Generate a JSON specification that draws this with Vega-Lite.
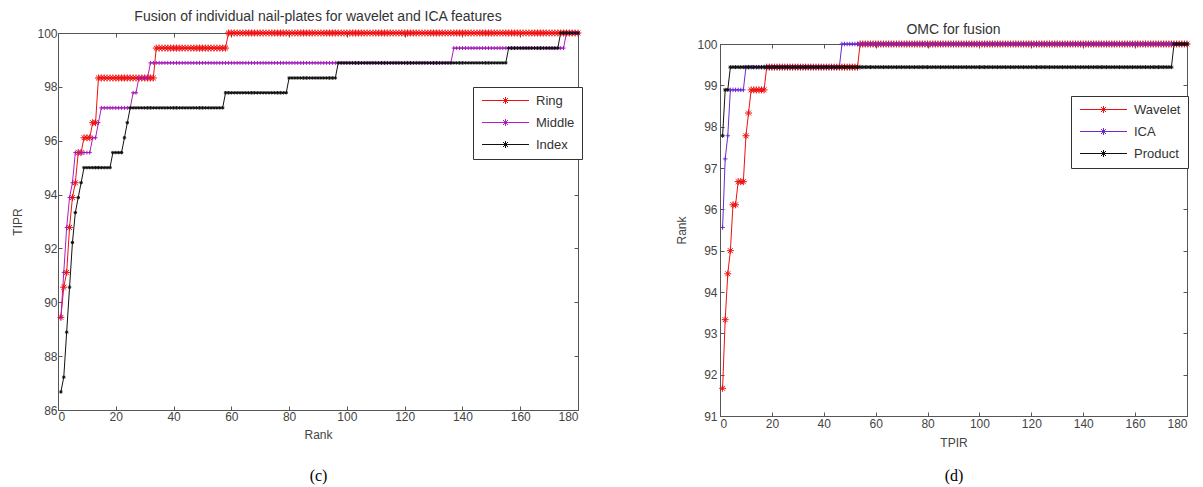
{
 "$schema": "https://vega.github.io/schema/vega-lite/v6.json",
 "background": "white",
 "padding": {"left": 11, "top": 9, "right": 5, "bottom": 1},
 "bounds": "flush",
 "spacing": 142,
 "config": {
  "view": {"stroke": "#555", "strokeWidth": 1},
  "font": "Liberation Sans",
  "axis": {"grid": false, "domainColor": "#555", "tickColor": "#555", "labelColor": "#444", "titleColor": "#444", "labelFont": "Liberation Sans", "titleFont": "Liberation Sans", "labelFontSize": 12, "titleFontSize": 12, "titleFontWeight": "normal", "tickSize": -4, "labelPadding": 5},
  "title": {"font": "Liberation Sans", "fontSize": 14, "fontWeight": "normal", "color": "#333", "anchor": "middle", "baseline": "alphabetic"},
  "legend": {"orient": "none", "title": null, "symbolType": "M-4.7,0L4.7,0M-0.7,0L0.7,0M0,-0.7L0,0.7M-0.5,-0.5L0.5,0.5M-0.5,0.5L0.5,-0.5", "symbolSize": 100, "symbolStrokeWidth": 1, "symbolFillColor": "transparent", "strokeColor": "#333", "fillColor": "white", "padding": 7, "rowPadding": 8, "symbolOffset": 19, "labelOffset": 24, "labelFont": "Liberation Sans", "labelFontSize": 13, "labelColor": "#333"}
 },
 "resolve": {"scale": {"color": "independent"}},
 "datasets": {
  "left": [
   {"r":1,"Ring":89.44,"Middle":89.44,"Index":86.67},
   {"r":2,"Ring":90.56,"Middle":91.11,"Index":87.22},
   {"r":3,"Ring":91.11,"Middle":92.78,"Index":88.89},
   {"r":4,"Ring":92.78,"Middle":93.89,"Index":90.56},
   {"r":5,"Ring":93.89,"Middle":94.44,"Index":92.22},
   {"r":6,"Ring":94.44,"Middle":95.56,"Index":93.33},
   {"r":7,"Ring":95.56,"Middle":95.56,"Index":93.89},
   {"r":8,"Ring":95.56,"Middle":95.56,"Index":94.44},
   {"r":9,"Ring":96.11,"Middle":95.56,"Index":95},
   {"r":10,"Ring":96.11,"Middle":95.56,"Index":95},
   {"r":11,"Ring":96.11,"Middle":95.56,"Index":95},
   {"r":12,"Ring":96.67,"Middle":96.11,"Index":95},
   {"r":13,"Ring":96.67,"Middle":96.11,"Index":95},
   {"r":14,"Ring":98.33,"Middle":96.67,"Index":95},
   {"r":15,"Ring":98.33,"Middle":97.22,"Index":95},
   {"r":16,"Ring":98.33,"Middle":97.22,"Index":95},
   {"r":17,"Ring":98.33,"Middle":97.22,"Index":95},
   {"r":18,"Ring":98.33,"Middle":97.22,"Index":95},
   {"r":19,"Ring":98.33,"Middle":97.22,"Index":95.56},
   {"r":20,"Ring":98.33,"Middle":97.22,"Index":95.56},
   {"r":21,"Ring":98.33,"Middle":97.22,"Index":95.56},
   {"r":22,"Ring":98.33,"Middle":97.22,"Index":95.56},
   {"r":23,"Ring":98.33,"Middle":97.22,"Index":96.11},
   {"r":24,"Ring":98.33,"Middle":97.22,"Index":96.67},
   {"r":25,"Ring":98.33,"Middle":97.22,"Index":97.22},
   {"r":26,"Ring":98.33,"Middle":97.78,"Index":97.22},
   {"r":27,"Ring":98.33,"Middle":97.78,"Index":97.22},
   {"r":28,"Ring":98.33,"Middle":98.33,"Index":97.22},
   {"r":29,"Ring":98.33,"Middle":98.33,"Index":97.22},
   {"r":30,"Ring":98.33,"Middle":98.33,"Index":97.22},
   {"r":31,"Ring":98.33,"Middle":98.33,"Index":97.22},
   {"r":32,"Ring":98.33,"Middle":98.89,"Index":97.22},
   {"r":33,"Ring":98.33,"Middle":98.89,"Index":97.22},
   {"r":34,"Ring":99.44,"Middle":98.89,"Index":97.22},
   {"r":35,"Ring":99.44,"Middle":98.89,"Index":97.22},
   {"r":36,"Ring":99.44,"Middle":98.89,"Index":97.22},
   {"r":37,"Ring":99.44,"Middle":98.89,"Index":97.22},
   {"r":38,"Ring":99.44,"Middle":98.89,"Index":97.22},
   {"r":39,"Ring":99.44,"Middle":98.89,"Index":97.22},
   {"r":40,"Ring":99.44,"Middle":98.89,"Index":97.22},
   {"r":41,"Ring":99.44,"Middle":98.89,"Index":97.22},
   {"r":42,"Ring":99.44,"Middle":98.89,"Index":97.22},
   {"r":43,"Ring":99.44,"Middle":98.89,"Index":97.22},
   {"r":44,"Ring":99.44,"Middle":98.89,"Index":97.22},
   {"r":45,"Ring":99.44,"Middle":98.89,"Index":97.22},
   {"r":46,"Ring":99.44,"Middle":98.89,"Index":97.22},
   {"r":47,"Ring":99.44,"Middle":98.89,"Index":97.22},
   {"r":48,"Ring":99.44,"Middle":98.89,"Index":97.22},
   {"r":49,"Ring":99.44,"Middle":98.89,"Index":97.22},
   {"r":50,"Ring":99.44,"Middle":98.89,"Index":97.22},
   {"r":51,"Ring":99.44,"Middle":98.89,"Index":97.22},
   {"r":52,"Ring":99.44,"Middle":98.89,"Index":97.22},
   {"r":53,"Ring":99.44,"Middle":98.89,"Index":97.22},
   {"r":54,"Ring":99.44,"Middle":98.89,"Index":97.22},
   {"r":55,"Ring":99.44,"Middle":98.89,"Index":97.22},
   {"r":56,"Ring":99.44,"Middle":98.89,"Index":97.22},
   {"r":57,"Ring":99.44,"Middle":98.89,"Index":97.22},
   {"r":58,"Ring":99.44,"Middle":98.89,"Index":97.78},
   {"r":59,"Ring":100,"Middle":98.89,"Index":97.78},
   {"r":60,"Ring":100,"Middle":98.89,"Index":97.78},
   {"r":61,"Ring":100,"Middle":98.89,"Index":97.78},
   {"r":62,"Ring":100,"Middle":98.89,"Index":97.78},
   {"r":63,"Ring":100,"Middle":98.89,"Index":97.78},
   {"r":64,"Ring":100,"Middle":98.89,"Index":97.78},
   {"r":65,"Ring":100,"Middle":98.89,"Index":97.78},
   {"r":66,"Ring":100,"Middle":98.89,"Index":97.78},
   {"r":67,"Ring":100,"Middle":98.89,"Index":97.78},
   {"r":68,"Ring":100,"Middle":98.89,"Index":97.78},
   {"r":69,"Ring":100,"Middle":98.89,"Index":97.78},
   {"r":70,"Ring":100,"Middle":98.89,"Index":97.78},
   {"r":71,"Ring":100,"Middle":98.89,"Index":97.78},
   {"r":72,"Ring":100,"Middle":98.89,"Index":97.78},
   {"r":73,"Ring":100,"Middle":98.89,"Index":97.78},
   {"r":74,"Ring":100,"Middle":98.89,"Index":97.78},
   {"r":75,"Ring":100,"Middle":98.89,"Index":97.78},
   {"r":76,"Ring":100,"Middle":98.89,"Index":97.78},
   {"r":77,"Ring":100,"Middle":98.89,"Index":97.78},
   {"r":78,"Ring":100,"Middle":98.89,"Index":97.78},
   {"r":79,"Ring":100,"Middle":98.89,"Index":97.78},
   {"r":80,"Ring":100,"Middle":98.89,"Index":98.33},
   {"r":81,"Ring":100,"Middle":98.89,"Index":98.33},
   {"r":82,"Ring":100,"Middle":98.89,"Index":98.33},
   {"r":83,"Ring":100,"Middle":98.89,"Index":98.33},
   {"r":84,"Ring":100,"Middle":98.89,"Index":98.33},
   {"r":85,"Ring":100,"Middle":98.89,"Index":98.33},
   {"r":86,"Ring":100,"Middle":98.89,"Index":98.33},
   {"r":87,"Ring":100,"Middle":98.89,"Index":98.33},
   {"r":88,"Ring":100,"Middle":98.89,"Index":98.33},
   {"r":89,"Ring":100,"Middle":98.89,"Index":98.33},
   {"r":90,"Ring":100,"Middle":98.89,"Index":98.33},
   {"r":91,"Ring":100,"Middle":98.89,"Index":98.33},
   {"r":92,"Ring":100,"Middle":98.89,"Index":98.33},
   {"r":93,"Ring":100,"Middle":98.89,"Index":98.33},
   {"r":94,"Ring":100,"Middle":98.89,"Index":98.33},
   {"r":95,"Ring":100,"Middle":98.89,"Index":98.33},
   {"r":96,"Ring":100,"Middle":98.89,"Index":98.33},
   {"r":97,"Ring":100,"Middle":98.89,"Index":98.89},
   {"r":98,"Ring":100,"Middle":98.89,"Index":98.89},
   {"r":99,"Ring":100,"Middle":98.89,"Index":98.89},
   {"r":100,"Ring":100,"Middle":98.89,"Index":98.89},
   {"r":101,"Ring":100,"Middle":98.89,"Index":98.89},
   {"r":102,"Ring":100,"Middle":98.89,"Index":98.89},
   {"r":103,"Ring":100,"Middle":98.89,"Index":98.89},
   {"r":104,"Ring":100,"Middle":98.89,"Index":98.89},
   {"r":105,"Ring":100,"Middle":98.89,"Index":98.89},
   {"r":106,"Ring":100,"Middle":98.89,"Index":98.89},
   {"r":107,"Ring":100,"Middle":98.89,"Index":98.89},
   {"r":108,"Ring":100,"Middle":98.89,"Index":98.89},
   {"r":109,"Ring":100,"Middle":98.89,"Index":98.89},
   {"r":110,"Ring":100,"Middle":98.89,"Index":98.89},
   {"r":111,"Ring":100,"Middle":98.89,"Index":98.89},
   {"r":112,"Ring":100,"Middle":98.89,"Index":98.89},
   {"r":113,"Ring":100,"Middle":98.89,"Index":98.89},
   {"r":114,"Ring":100,"Middle":98.89,"Index":98.89},
   {"r":115,"Ring":100,"Middle":98.89,"Index":98.89},
   {"r":116,"Ring":100,"Middle":98.89,"Index":98.89},
   {"r":117,"Ring":100,"Middle":98.89,"Index":98.89},
   {"r":118,"Ring":100,"Middle":98.89,"Index":98.89},
   {"r":119,"Ring":100,"Middle":98.89,"Index":98.89},
   {"r":120,"Ring":100,"Middle":98.89,"Index":98.89},
   {"r":121,"Ring":100,"Middle":98.89,"Index":98.89},
   {"r":122,"Ring":100,"Middle":98.89,"Index":98.89},
   {"r":123,"Ring":100,"Middle":98.89,"Index":98.89},
   {"r":124,"Ring":100,"Middle":98.89,"Index":98.89},
   {"r":125,"Ring":100,"Middle":98.89,"Index":98.89},
   {"r":126,"Ring":100,"Middle":98.89,"Index":98.89},
   {"r":127,"Ring":100,"Middle":98.89,"Index":98.89},
   {"r":128,"Ring":100,"Middle":98.89,"Index":98.89},
   {"r":129,"Ring":100,"Middle":98.89,"Index":98.89},
   {"r":130,"Ring":100,"Middle":98.89,"Index":98.89},
   {"r":131,"Ring":100,"Middle":98.89,"Index":98.89},
   {"r":132,"Ring":100,"Middle":98.89,"Index":98.89},
   {"r":133,"Ring":100,"Middle":98.89,"Index":98.89},
   {"r":134,"Ring":100,"Middle":98.89,"Index":98.89},
   {"r":135,"Ring":100,"Middle":98.89,"Index":98.89},
   {"r":136,"Ring":100,"Middle":98.89,"Index":98.89},
   {"r":137,"Ring":100,"Middle":99.44,"Index":98.89},
   {"r":138,"Ring":100,"Middle":99.44,"Index":98.89},
   {"r":139,"Ring":100,"Middle":99.44,"Index":98.89},
   {"r":140,"Ring":100,"Middle":99.44,"Index":98.89},
   {"r":141,"Ring":100,"Middle":99.44,"Index":98.89},
   {"r":142,"Ring":100,"Middle":99.44,"Index":98.89},
   {"r":143,"Ring":100,"Middle":99.44,"Index":98.89},
   {"r":144,"Ring":100,"Middle":99.44,"Index":98.89},
   {"r":145,"Ring":100,"Middle":99.44,"Index":98.89},
   {"r":146,"Ring":100,"Middle":99.44,"Index":98.89},
   {"r":147,"Ring":100,"Middle":99.44,"Index":98.89},
   {"r":148,"Ring":100,"Middle":99.44,"Index":98.89},
   {"r":149,"Ring":100,"Middle":99.44,"Index":98.89},
   {"r":150,"Ring":100,"Middle":99.44,"Index":98.89},
   {"r":151,"Ring":100,"Middle":99.44,"Index":98.89},
   {"r":152,"Ring":100,"Middle":99.44,"Index":98.89},
   {"r":153,"Ring":100,"Middle":99.44,"Index":98.89},
   {"r":154,"Ring":100,"Middle":99.44,"Index":98.89},
   {"r":155,"Ring":100,"Middle":99.44,"Index":98.89},
   {"r":156,"Ring":100,"Middle":99.44,"Index":99.44},
   {"r":157,"Ring":100,"Middle":99.44,"Index":99.44},
   {"r":158,"Ring":100,"Middle":99.44,"Index":99.44},
   {"r":159,"Ring":100,"Middle":99.44,"Index":99.44},
   {"r":160,"Ring":100,"Middle":99.44,"Index":99.44},
   {"r":161,"Ring":100,"Middle":99.44,"Index":99.44},
   {"r":162,"Ring":100,"Middle":99.44,"Index":99.44},
   {"r":163,"Ring":100,"Middle":99.44,"Index":99.44},
   {"r":164,"Ring":100,"Middle":99.44,"Index":99.44},
   {"r":165,"Ring":100,"Middle":99.44,"Index":99.44},
   {"r":166,"Ring":100,"Middle":99.44,"Index":99.44},
   {"r":167,"Ring":100,"Middle":99.44,"Index":99.44},
   {"r":168,"Ring":100,"Middle":99.44,"Index":99.44},
   {"r":169,"Ring":100,"Middle":99.44,"Index":99.44},
   {"r":170,"Ring":100,"Middle":99.44,"Index":99.44},
   {"r":171,"Ring":100,"Middle":99.44,"Index":99.44},
   {"r":172,"Ring":100,"Middle":99.44,"Index":99.44},
   {"r":173,"Ring":100,"Middle":99.44,"Index":99.44},
   {"r":174,"Ring":100,"Middle":99.44,"Index":100},
   {"r":175,"Ring":100,"Middle":99.44,"Index":100},
   {"r":176,"Ring":100,"Middle":100,"Index":100},
   {"r":177,"Ring":100,"Middle":100,"Index":100},
   {"r":178,"Ring":100,"Middle":100,"Index":100},
   {"r":179,"Ring":100,"Middle":100,"Index":100},
   {"r":180,"Ring":100,"Middle":100,"Index":100}
  ],
  "right": [
   {"r":1,"Wavelet":91.67,"ICA":95.56,"Product":97.78},
   {"r":2,"Wavelet":93.33,"ICA":97.22,"Product":98.89},
   {"r":3,"Wavelet":94.44,"ICA":97.78,"Product":98.89},
   {"r":4,"Wavelet":95,"ICA":98.89,"Product":99.44},
   {"r":5,"Wavelet":96.11,"ICA":98.89,"Product":99.44},
   {"r":6,"Wavelet":96.11,"ICA":98.89,"Product":99.44},
   {"r":7,"Wavelet":96.67,"ICA":98.89,"Product":99.44},
   {"r":8,"Wavelet":96.67,"ICA":98.89,"Product":99.44},
   {"r":9,"Wavelet":96.67,"ICA":98.89,"Product":99.44},
   {"r":10,"Wavelet":97.78,"ICA":99.44,"Product":99.44},
   {"r":11,"Wavelet":98.33,"ICA":99.44,"Product":99.44},
   {"r":12,"Wavelet":98.89,"ICA":99.44,"Product":99.44},
   {"r":13,"Wavelet":98.89,"ICA":99.44,"Product":99.44},
   {"r":14,"Wavelet":98.89,"ICA":99.44,"Product":99.44},
   {"r":15,"Wavelet":98.89,"ICA":99.44,"Product":99.44},
   {"r":16,"Wavelet":98.89,"ICA":99.44,"Product":99.44},
   {"r":17,"Wavelet":98.89,"ICA":99.44,"Product":99.44},
   {"r":18,"Wavelet":99.44,"ICA":99.44,"Product":99.44},
   {"r":19,"Wavelet":99.44,"ICA":99.44,"Product":99.44},
   {"r":20,"Wavelet":99.44,"ICA":99.44,"Product":99.44},
   {"r":21,"Wavelet":99.44,"ICA":99.44,"Product":99.44},
   {"r":22,"Wavelet":99.44,"ICA":99.44,"Product":99.44},
   {"r":23,"Wavelet":99.44,"ICA":99.44,"Product":99.44},
   {"r":24,"Wavelet":99.44,"ICA":99.44,"Product":99.44},
   {"r":25,"Wavelet":99.44,"ICA":99.44,"Product":99.44},
   {"r":26,"Wavelet":99.44,"ICA":99.44,"Product":99.44},
   {"r":27,"Wavelet":99.44,"ICA":99.44,"Product":99.44},
   {"r":28,"Wavelet":99.44,"ICA":99.44,"Product":99.44},
   {"r":29,"Wavelet":99.44,"ICA":99.44,"Product":99.44},
   {"r":30,"Wavelet":99.44,"ICA":99.44,"Product":99.44},
   {"r":31,"Wavelet":99.44,"ICA":99.44,"Product":99.44},
   {"r":32,"Wavelet":99.44,"ICA":99.44,"Product":99.44},
   {"r":33,"Wavelet":99.44,"ICA":99.44,"Product":99.44},
   {"r":34,"Wavelet":99.44,"ICA":99.44,"Product":99.44},
   {"r":35,"Wavelet":99.44,"ICA":99.44,"Product":99.44},
   {"r":36,"Wavelet":99.44,"ICA":99.44,"Product":99.44},
   {"r":37,"Wavelet":99.44,"ICA":99.44,"Product":99.44},
   {"r":38,"Wavelet":99.44,"ICA":99.44,"Product":99.44},
   {"r":39,"Wavelet":99.44,"ICA":99.44,"Product":99.44},
   {"r":40,"Wavelet":99.44,"ICA":99.44,"Product":99.44},
   {"r":41,"Wavelet":99.44,"ICA":99.44,"Product":99.44},
   {"r":42,"Wavelet":99.44,"ICA":99.44,"Product":99.44},
   {"r":43,"Wavelet":99.44,"ICA":99.44,"Product":99.44},
   {"r":44,"Wavelet":99.44,"ICA":99.44,"Product":99.44},
   {"r":45,"Wavelet":99.44,"ICA":99.44,"Product":99.44},
   {"r":46,"Wavelet":99.44,"ICA":99.44,"Product":99.44},
   {"r":47,"Wavelet":99.44,"ICA":100,"Product":99.44},
   {"r":48,"Wavelet":99.44,"ICA":100,"Product":99.44},
   {"r":49,"Wavelet":99.44,"ICA":100,"Product":99.44},
   {"r":50,"Wavelet":99.44,"ICA":100,"Product":99.44},
   {"r":51,"Wavelet":99.44,"ICA":100,"Product":99.44},
   {"r":52,"Wavelet":99.44,"ICA":100,"Product":99.44},
   {"r":53,"Wavelet":99.44,"ICA":100,"Product":99.44},
   {"r":54,"Wavelet":100,"ICA":100,"Product":99.44},
   {"r":55,"Wavelet":100,"ICA":100,"Product":99.44},
   {"r":56,"Wavelet":100,"ICA":100,"Product":99.44},
   {"r":57,"Wavelet":100,"ICA":100,"Product":99.44},
   {"r":58,"Wavelet":100,"ICA":100,"Product":99.44},
   {"r":59,"Wavelet":100,"ICA":100,"Product":99.44},
   {"r":60,"Wavelet":100,"ICA":100,"Product":99.44},
   {"r":61,"Wavelet":100,"ICA":100,"Product":99.44},
   {"r":62,"Wavelet":100,"ICA":100,"Product":99.44},
   {"r":63,"Wavelet":100,"ICA":100,"Product":99.44},
   {"r":64,"Wavelet":100,"ICA":100,"Product":99.44},
   {"r":65,"Wavelet":100,"ICA":100,"Product":99.44},
   {"r":66,"Wavelet":100,"ICA":100,"Product":99.44},
   {"r":67,"Wavelet":100,"ICA":100,"Product":99.44},
   {"r":68,"Wavelet":100,"ICA":100,"Product":99.44},
   {"r":69,"Wavelet":100,"ICA":100,"Product":99.44},
   {"r":70,"Wavelet":100,"ICA":100,"Product":99.44},
   {"r":71,"Wavelet":100,"ICA":100,"Product":99.44},
   {"r":72,"Wavelet":100,"ICA":100,"Product":99.44},
   {"r":73,"Wavelet":100,"ICA":100,"Product":99.44},
   {"r":74,"Wavelet":100,"ICA":100,"Product":99.44},
   {"r":75,"Wavelet":100,"ICA":100,"Product":99.44},
   {"r":76,"Wavelet":100,"ICA":100,"Product":99.44},
   {"r":77,"Wavelet":100,"ICA":100,"Product":99.44},
   {"r":78,"Wavelet":100,"ICA":100,"Product":99.44},
   {"r":79,"Wavelet":100,"ICA":100,"Product":99.44},
   {"r":80,"Wavelet":100,"ICA":100,"Product":99.44},
   {"r":81,"Wavelet":100,"ICA":100,"Product":99.44},
   {"r":82,"Wavelet":100,"ICA":100,"Product":99.44},
   {"r":83,"Wavelet":100,"ICA":100,"Product":99.44},
   {"r":84,"Wavelet":100,"ICA":100,"Product":99.44},
   {"r":85,"Wavelet":100,"ICA":100,"Product":99.44},
   {"r":86,"Wavelet":100,"ICA":100,"Product":99.44},
   {"r":87,"Wavelet":100,"ICA":100,"Product":99.44},
   {"r":88,"Wavelet":100,"ICA":100,"Product":99.44},
   {"r":89,"Wavelet":100,"ICA":100,"Product":99.44},
   {"r":90,"Wavelet":100,"ICA":100,"Product":99.44},
   {"r":91,"Wavelet":100,"ICA":100,"Product":99.44},
   {"r":92,"Wavelet":100,"ICA":100,"Product":99.44},
   {"r":93,"Wavelet":100,"ICA":100,"Product":99.44},
   {"r":94,"Wavelet":100,"ICA":100,"Product":99.44},
   {"r":95,"Wavelet":100,"ICA":100,"Product":99.44},
   {"r":96,"Wavelet":100,"ICA":100,"Product":99.44},
   {"r":97,"Wavelet":100,"ICA":100,"Product":99.44},
   {"r":98,"Wavelet":100,"ICA":100,"Product":99.44},
   {"r":99,"Wavelet":100,"ICA":100,"Product":99.44},
   {"r":100,"Wavelet":100,"ICA":100,"Product":99.44},
   {"r":101,"Wavelet":100,"ICA":100,"Product":99.44},
   {"r":102,"Wavelet":100,"ICA":100,"Product":99.44},
   {"r":103,"Wavelet":100,"ICA":100,"Product":99.44},
   {"r":104,"Wavelet":100,"ICA":100,"Product":99.44},
   {"r":105,"Wavelet":100,"ICA":100,"Product":99.44},
   {"r":106,"Wavelet":100,"ICA":100,"Product":99.44},
   {"r":107,"Wavelet":100,"ICA":100,"Product":99.44},
   {"r":108,"Wavelet":100,"ICA":100,"Product":99.44},
   {"r":109,"Wavelet":100,"ICA":100,"Product":99.44},
   {"r":110,"Wavelet":100,"ICA":100,"Product":99.44},
   {"r":111,"Wavelet":100,"ICA":100,"Product":99.44},
   {"r":112,"Wavelet":100,"ICA":100,"Product":99.44},
   {"r":113,"Wavelet":100,"ICA":100,"Product":99.44},
   {"r":114,"Wavelet":100,"ICA":100,"Product":99.44},
   {"r":115,"Wavelet":100,"ICA":100,"Product":99.44},
   {"r":116,"Wavelet":100,"ICA":100,"Product":99.44},
   {"r":117,"Wavelet":100,"ICA":100,"Product":99.44},
   {"r":118,"Wavelet":100,"ICA":100,"Product":99.44},
   {"r":119,"Wavelet":100,"ICA":100,"Product":99.44},
   {"r":120,"Wavelet":100,"ICA":100,"Product":99.44},
   {"r":121,"Wavelet":100,"ICA":100,"Product":99.44},
   {"r":122,"Wavelet":100,"ICA":100,"Product":99.44},
   {"r":123,"Wavelet":100,"ICA":100,"Product":99.44},
   {"r":124,"Wavelet":100,"ICA":100,"Product":99.44},
   {"r":125,"Wavelet":100,"ICA":100,"Product":99.44},
   {"r":126,"Wavelet":100,"ICA":100,"Product":99.44},
   {"r":127,"Wavelet":100,"ICA":100,"Product":99.44},
   {"r":128,"Wavelet":100,"ICA":100,"Product":99.44},
   {"r":129,"Wavelet":100,"ICA":100,"Product":99.44},
   {"r":130,"Wavelet":100,"ICA":100,"Product":99.44},
   {"r":131,"Wavelet":100,"ICA":100,"Product":99.44},
   {"r":132,"Wavelet":100,"ICA":100,"Product":99.44},
   {"r":133,"Wavelet":100,"ICA":100,"Product":99.44},
   {"r":134,"Wavelet":100,"ICA":100,"Product":99.44},
   {"r":135,"Wavelet":100,"ICA":100,"Product":99.44},
   {"r":136,"Wavelet":100,"ICA":100,"Product":99.44},
   {"r":137,"Wavelet":100,"ICA":100,"Product":99.44},
   {"r":138,"Wavelet":100,"ICA":100,"Product":99.44},
   {"r":139,"Wavelet":100,"ICA":100,"Product":99.44},
   {"r":140,"Wavelet":100,"ICA":100,"Product":99.44},
   {"r":141,"Wavelet":100,"ICA":100,"Product":99.44},
   {"r":142,"Wavelet":100,"ICA":100,"Product":99.44},
   {"r":143,"Wavelet":100,"ICA":100,"Product":99.44},
   {"r":144,"Wavelet":100,"ICA":100,"Product":99.44},
   {"r":145,"Wavelet":100,"ICA":100,"Product":99.44},
   {"r":146,"Wavelet":100,"ICA":100,"Product":99.44},
   {"r":147,"Wavelet":100,"ICA":100,"Product":99.44},
   {"r":148,"Wavelet":100,"ICA":100,"Product":99.44},
   {"r":149,"Wavelet":100,"ICA":100,"Product":99.44},
   {"r":150,"Wavelet":100,"ICA":100,"Product":99.44},
   {"r":151,"Wavelet":100,"ICA":100,"Product":99.44},
   {"r":152,"Wavelet":100,"ICA":100,"Product":99.44},
   {"r":153,"Wavelet":100,"ICA":100,"Product":99.44},
   {"r":154,"Wavelet":100,"ICA":100,"Product":99.44},
   {"r":155,"Wavelet":100,"ICA":100,"Product":99.44},
   {"r":156,"Wavelet":100,"ICA":100,"Product":99.44},
   {"r":157,"Wavelet":100,"ICA":100,"Product":99.44},
   {"r":158,"Wavelet":100,"ICA":100,"Product":99.44},
   {"r":159,"Wavelet":100,"ICA":100,"Product":99.44},
   {"r":160,"Wavelet":100,"ICA":100,"Product":99.44},
   {"r":161,"Wavelet":100,"ICA":100,"Product":99.44},
   {"r":162,"Wavelet":100,"ICA":100,"Product":99.44},
   {"r":163,"Wavelet":100,"ICA":100,"Product":99.44},
   {"r":164,"Wavelet":100,"ICA":100,"Product":99.44},
   {"r":165,"Wavelet":100,"ICA":100,"Product":99.44},
   {"r":166,"Wavelet":100,"ICA":100,"Product":99.44},
   {"r":167,"Wavelet":100,"ICA":100,"Product":99.44},
   {"r":168,"Wavelet":100,"ICA":100,"Product":99.44},
   {"r":169,"Wavelet":100,"ICA":100,"Product":99.44},
   {"r":170,"Wavelet":100,"ICA":100,"Product":99.44},
   {"r":171,"Wavelet":100,"ICA":100,"Product":99.44},
   {"r":172,"Wavelet":100,"ICA":100,"Product":99.44},
   {"r":173,"Wavelet":100,"ICA":100,"Product":99.44},
   {"r":174,"Wavelet":100,"ICA":100,"Product":99.44},
   {"r":175,"Wavelet":100,"ICA":100,"Product":100},
   {"r":176,"Wavelet":100,"ICA":100,"Product":100},
   {"r":177,"Wavelet":100,"ICA":100,"Product":100},
   {"r":178,"Wavelet":100,"ICA":100,"Product":100},
   {"r":179,"Wavelet":100,"ICA":100,"Product":100},
   {"r":180,"Wavelet":100,"ICA":100,"Product":100}
  ]
 },
 "hconcat": [
  {
   "width": 520,
   "height": 377,
   "data": {"name": "left"},
   "transform": [{"fold": ["Ring", "Middle", "Index"], "as": ["series", "value"]}],
   "title": {"text": "Fusion of individual nail-plates for wavelet and ICA features", "offset": 3},
   "resolve": {"axis": {"x": "independent", "y": "independent"}},
   "layer": [
    {
     "mark": {"type": "line", "strokeWidth": 1},
     "encoding": {
      "x": {"field": "r", "type": "quantitative", "scale": {"domain": [0, 180], "nice": false, "zero": false},
            "axis": {"orient": "bottom", "values": [0, 20, 40, 60, 80, 100, 120, 140, 160, 180], "title": "Rank", "titlePadding": 7}},
      "y": {"field": "value", "type": "quantitative", "scale": {"domain": [86, 100], "nice": false, "zero": false},
            "axis": {"orient": "left", "values": [86, 88, 90, 92, 94, 96, 98, 100], "title": "TIPR", "titlePadding": 12}},
      "color": {"field": "series", "type": "nominal",
                "scale": {"domain": ["Ring", "Middle", "Index"], "range": ["#f01010", "#b01cc0", "#111111"]},
                "legend": {"legendX": 415, "legendY": 54}}
     }
    },
    {
     "transform": [{"filter": {"field": "series", "equal": "Ring"}}],
     "mark": {"type": "point", "filled": false, "strokeWidth": 1, "opacity": 1, "color": "#f01010", "size": 49, "shape": "M-1,0L1,0M0,-1L0,1M-0.7,-0.7L0.7,0.7M-0.7,0.7L0.7,-0.7"},
     "encoding": {
      "x": {"field": "r", "type": "quantitative",
            "axis": {"orient": "top", "values": [0, 20, 40, 60, 80, 100, 120, 140, 160, 180], "labels": false, "domain": false, "title": null}},
      "y": {"field": "value", "type": "quantitative",
            "axis": {"orient": "right", "values": [86, 88, 90, 92, 94, 96, 98, 100], "labels": false, "domain": false, "title": null}}
     }
    },
    {
     "transform": [{"filter": {"field": "series", "equal": "Middle"}}],
     "mark": {"type": "point", "filled": false, "strokeWidth": 1, "opacity": 1, "color": "#a018b8", "size": 16, "shape": "M-1,0L1,0M0,-1L0,1"},
     "encoding": {
      "x": {"field": "r", "type": "quantitative", "axis": null},
      "y": {"field": "value", "type": "quantitative", "axis": null}
     }
    },
    {
     "transform": [{"filter": {"field": "series", "equal": "Index"}}],
     "mark": {"type": "point", "filled": false, "strokeWidth": 1, "opacity": 1, "color": "#111111", "size": 12, "shape": "M-1,0L1,0M0,-1L0,1M-0.7,-0.7L0.7,0.7M-0.7,0.7L0.7,-0.7"},
     "encoding": {
      "x": {"field": "r", "type": "quantitative", "axis": null},
      "y": {"field": "value", "type": "quantitative", "axis": null}
     }
    },
    {
     "data": {"values": []},
     "mark": {"type": "point"},
     "encoding": {
      "x": {"field": "r", "type": "quantitative",
            "axis": {"orient": "bottom", "labels": false, "ticks": false, "domain": false, "title": "(c)", "titleFont": "Liberation Serif", "titleFontSize": 16, "titleColor": "#000", "titlePadding": 57}}
     }
    }
   ]
  },
  {
   "bounds": "flush",
   "spacing": 10,
   "vconcat": [
    {"width": 467, "height": 1, "data": {"values": []}, "mark": {"type": "point", "opacity": 0}, "view": {"stroke": null}},
    {
     "width": 467,
     "height": 372,
     "data": {"name": "right"},
     "transform": [{"fold": ["Wavelet", "ICA", "Product"], "as": ["series", "value"]}],
     "title": {"text": "OMC for fusion", "offset": 1},
     "resolve": {"axis": {"x": "independent", "y": "independent"}},
     "layer": [
      {
       "mark": {"type": "line", "strokeWidth": 1},
       "encoding": {
        "x": {"field": "r", "type": "quantitative", "scale": {"domain": [0, 180], "nice": false, "zero": false},
              "axis": {"orient": "bottom", "values": [0, 20, 40, 60, 80, 100, 120, 140, 160, 180], "title": "TPIR", "titlePadding": 8, "labelPadding": 6}},
        "y": {"field": "value", "type": "quantitative", "scale": {"domain": [91, 100], "nice": false, "zero": false},
              "axis": {"orient": "left", "values": [91, 92, 93, 94, 95, 96, 97, 98, 99, 100], "title": "Rank", "titlePadding": 8, "labelPadding": 7}},
        "color": {"field": "series", "type": "nominal",
                  "scale": {"domain": ["Wavelet", "ICA", "Product"], "range": ["#ee1111", "#6a2ad0", "#111111"]},
                  "legend": {"legendX": 351, "legendY": 63}}
       }
      },
      {
       "transform": [{"filter": {"field": "series", "equal": "Wavelet"}}],
       "mark": {"type": "point", "filled": false, "strokeWidth": 1, "opacity": 1, "color": "#ee1111", "size": 49, "shape": "M-1,0L1,0M0,-1L0,1M-0.7,-0.7L0.7,0.7M-0.7,0.7L0.7,-0.7"},
       "encoding": {
        "x": {"field": "r", "type": "quantitative",
              "axis": {"orient": "top", "values": [0, 20, 40, 60, 80, 100, 120, 140, 160, 180], "labels": false, "domain": false, "title": null}},
        "y": {"field": "value", "type": "quantitative",
              "axis": {"orient": "right", "values": [91, 92, 93, 94, 95, 96, 97, 98, 99, 100], "labels": false, "domain": false, "title": null}}
       }
      },
      {
       "transform": [{"filter": {"field": "series", "equal": "ICA"}}],
       "mark": {"type": "point", "filled": false, "strokeWidth": 1, "opacity": 1, "color": "#6a2ad0", "size": 20, "shape": "M-1,0L1,0M0,-1L0,1"},
       "encoding": {
        "x": {"field": "r", "type": "quantitative", "axis": null},
        "y": {"field": "value", "type": "quantitative", "axis": null}
       }
      },
      {
       "transform": [{"filter": {"field": "series", "equal": "Product"}}],
       "mark": {"type": "point", "filled": false, "strokeWidth": 1, "opacity": 1, "color": "#111111", "size": 16, "shape": "M-1,0L1,0M0,-1L0,1M-0.7,-0.7L0.7,0.7M-0.7,0.7L0.7,-0.7"},
       "encoding": {
        "x": {"field": "r", "type": "quantitative", "axis": null},
        "y": {"field": "value", "type": "quantitative", "axis": null}
       }
      },
      {
       "data": {"values": []},
       "mark": {"type": "point"},
       "encoding": {
        "x": {"field": "r", "type": "quantitative",
              "axis": {"orient": "bottom", "labels": false, "ticks": false, "domain": false, "title": "(d)", "titleFont": "Liberation Serif", "titleFontSize": 16, "titleColor": "#000", "titlePadding": 51}}
       }
      }
     ]
    }
   ]
  }
 ]
}
